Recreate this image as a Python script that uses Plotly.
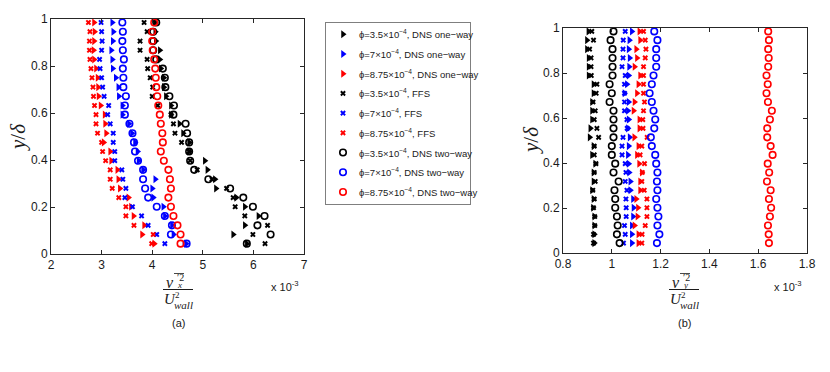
import plotly.graph_objects as go

# wall-normal positions y/delta (same rows in both panels)
y_pos = [0.044, 0.083, 0.122, 0.162, 0.201, 0.240, 0.279, 0.318, 0.358, 0.397,
         0.436, 0.475, 0.514, 0.554, 0.593, 0.632, 0.671, 0.710, 0.750, 0.789,
         0.828, 0.867, 0.906, 0.946, 0.985]

# panel (a): streamwise fluctuation, units of 1e-3
vx_dns1_35 = [5.87, 5.60, 5.83, 6.10, 5.83, 5.66, 5.26, 5.24, 5.09, 5.04, 4.73, 4.73, 4.61,
              4.54, 4.37, 4.37, 4.27, 4.23, 4.23, 4.17, 4.15, 4.15, 4.07, 4.06, 4.06]
vx_dns1_7 = [4.67, 4.42, 4.39, 4.25, 4.22, 4.02, 4.00, 4.06, 3.82, 3.73, 3.71, 3.66, 3.60,
             3.54, 3.41, 3.41, 3.34, 3.33, 3.28, 3.22, 3.21, 3.19, 3.22, 3.23, 3.21]
vx_dns1_875 = [4.04, 3.80, 3.84, 3.63, 3.58, 3.53, 3.36, 3.33, 3.31, 3.19, 3.17, 3.04, 3.09,
               3.07, 3.06, 2.98, 2.94, 2.93, 2.92, 2.89, 2.85, 2.84, 2.85, 2.86, 2.85]
vx_ffs_35 = [6.23, 5.99, 6.28, 5.83, 5.64, 5.60, 5.47, 5.18, 4.89, 4.75, 4.73, 4.58, 4.45,
             4.42, 4.37, 4.11, 4.00, 4.01, 3.96, 3.91, 3.90, 3.76, 3.76, 3.90, 3.84]
vx_ffs_7 = [4.25, 4.09, 3.92, 3.79, 3.61, 3.46, 3.48, 3.42, 3.40, 3.26, 3.26, 3.23, 3.23,
            3.17, 3.12, 3.14, 3.05, 3.02, 3.00, 2.97, 2.96, 3.00, 3.01, 3.00, 2.99]
vx_ffs_875 = [3.99, 4.02, 3.64, 3.48, 3.48, 3.34, 3.21, 3.17, 3.17, 3.08, 3.02, 3.00, 2.92,
              2.89, 2.89, 2.86, 2.84, 2.83, 2.81, 2.79, 2.77, 2.76, 2.76, 2.77, 2.74]
vx_dns2_35 = [5.87, 6.34, 6.08, 6.22, 5.99, 5.80, 5.54, 5.11, 4.83, 4.75, 4.73, 4.73, 4.69,
              4.66, 4.42, 4.43, 4.34, 4.26, 4.25, 4.21, 4.08, 4.02, 4.02, 4.02, 4.08]
vx_dns2_7 = [4.68, 4.37, 4.39, 4.25, 4.09, 3.92, 3.86, 3.82, 3.82, 3.72, 3.66, 3.64, 3.61,
             3.55, 3.46, 3.46, 3.48, 3.43, 3.43, 3.42, 3.44, 3.42, 3.41, 3.42, 3.41]
vx_dns2_875 = [4.56, 4.56, 4.50, 4.42, 4.37, 4.32, 4.37, 4.35, 4.32, 4.23, 4.17, 4.21, 4.20,
               4.17, 4.15, 4.12, 4.10, 4.08, 4.07, 4.06, 4.04, 4.01, 4.00, 4.00, 4.04]

# panel (b): wall-normal fluctuation, units of 1e-3
vy_dns1_35 = [0.928, 0.928, 0.928, 0.928, 0.923, 0.925, 0.919, 0.925, 0.925, 0.932, 0.919, 0.925, 0.909,
              0.912, 0.919, 0.919, 0.919, 0.925, 0.925, 0.905, 0.905, 0.905, 0.898, 0.898, 0.904]
vy_dns1_7 = [1.082, 1.082, 1.082, 1.087, 1.089, 1.087, 1.076, 1.076, 1.071, 1.069, 1.066, 1.069, 1.073,
             1.066, 1.069, 1.066, 1.069, 1.052, 1.062, 1.069, 1.071, 1.073, 1.069, 1.072, 1.082]
vy_dns1_875 = [1.109, 1.109, 1.093, 1.105, 1.107, 1.100, 1.116, 1.116, 1.123, 1.112, 1.103, 1.109, 1.092,
               1.113, 1.113, 1.089, 1.093, 1.103, 1.109, 1.116, 1.093, 1.103, 1.100, 1.116, 1.113]
vy_ffs_35 = [0.925, 0.925, 0.930, 0.930, 0.925, 0.928, 0.922, 0.932, 0.928, 0.935, 0.928, 0.928, 0.946,
             0.939, 0.928, 0.932, 0.923, 0.936, 0.939, 0.916, 0.915, 0.915, 0.909, 0.925, 0.918]
vy_ffs_7 = [1.048, 1.055, 1.052, 1.059, 1.059, 1.058, 1.062, 1.055, 1.058, 1.055, 1.042, 1.042, 1.046,
            1.063, 1.062, 1.052, 1.052, 1.052, 1.052, 1.055, 1.042, 1.046, 1.046, 1.047, 1.055]
vy_ffs_875 = [1.123, 1.124, 1.137, 1.144, 1.144, 1.144, 1.133, 1.123, 1.125, 1.134, 1.116, 1.123, 1.145,
              1.128, 1.127, 1.130, 1.134, 1.130, 1.130, 1.130, 1.130, 1.137, 1.140, 1.137, 1.130]
vy_dns2_35 = [1.032, 1.021, 1.024, 1.021, 1.014, 1.014, 1.011, 1.028, 1.007, 1.014, 1.000, 1.000, 1.007,
              1.007, 1.007, 1.007, 0.991, 1.000, 0.991, 1.003, 1.003, 1.003, 1.003, 0.995, 1.007]
vy_dns2_7 = [1.185, 1.195, 1.187, 1.191, 1.187, 1.182, 1.187, 1.185, 1.187, 1.182, 1.178, 1.164, 1.160,
             1.174, 1.178, 1.171, 1.164, 1.155, 1.164, 1.171, 1.182, 1.182, 1.182, 1.187, 1.174]
vy_dns2_875 = [1.644, 1.643, 1.640, 1.648, 1.653, 1.644, 1.651, 1.636, 1.645, 1.639, 1.659, 1.651, 1.637,
               1.637, 1.648, 1.656, 1.640, 1.634, 1.639, 1.634, 1.641, 1.643, 1.641, 1.644, 1.641]

labels = [
    "ϕ=3.5×10<sup>−4</sup>, DNS one−way",
    "ϕ=7×10<sup>−4</sup>, DNS one−way",
    "ϕ=8.75×10<sup>−4</sup>, DNS one−way",
    "ϕ=3.5×10<sup>−4</sup>, FFS",
    "ϕ=7×10<sup>−4</sup>, FFS",
    "ϕ=8.75×10<sup>−4</sup>, FFS",
    "ϕ=3.5×10<sup>−4</sup>, DNS two−way",
    "ϕ=7×10<sup>−4</sup>, DNS two−way",
    "ϕ=8.75×10<sup>−4</sup>, DNS two−way",
]
colors = ["#000000", "#0000ff", "#ff0000"] * 3
symbols = ["triangle-right"] * 3 + ["x"] * 3 + ["circle-open"] * 3

left_series = [vx_dns1_35, vx_dns1_7, vx_dns1_875, vx_ffs_35, vx_ffs_7, vx_ffs_875,
               vx_dns2_35, vx_dns2_7, vx_dns2_875]
right_series = [vy_dns1_35, vy_dns1_7, vy_dns1_875, vy_ffs_35, vy_ffs_7, vy_ffs_875,
                vy_dns2_35, vy_dns2_7, vy_dns2_875]


def _marker(sym, col):
    if sym == "circle-open":
        return dict(symbol=sym, size=6.5, color=col, line=dict(color=col, width=1.6))
    if sym == "x":
        return dict(symbol=sym, size=5, color=col, line=dict(width=0))
    return dict(symbol=sym, size=7, color=col, line=dict(width=0))


fig = go.Figure()
for i in range(9):
    fig.add_trace(go.Scatter(x=left_series[i], y=y_pos, mode="markers", showlegend=False,
                             marker=_marker(symbols[i], colors[i]), xaxis="x", yaxis="y"))
for i in range(9):
    fig.add_trace(go.Scatter(x=right_series[i], y=y_pos, mode="markers", showlegend=False,
                             marker=_marker(symbols[i], colors[i]), xaxis="x2", yaxis="y2"))

# legend box drawn on its own small axes: one key per row
for i in range(9):
    fig.add_trace(go.Scatter(x=[17], y=[i], mode="markers", showlegend=False,
                             marker=_marker(symbols[i], colors[i]), xaxis="x3", yaxis="y3",
                             cliponaxis=False, hoverinfo="skip"))

W, H = 830, 372


def px(x):
    return x / W


def py(y):
    return 1 - y / H


axis_style = dict(showline=True, linecolor="#262626", linewidth=1, mirror="ticks",
                  ticks="inside", ticklen=4, tickcolor="#262626", showgrid=False,
                  zeroline=False, automargin=False,
                  tickfont=dict(size=12, color="#1a1a1a"))
box_style = dict(showline=True, linecolor="#7f7f7f", linewidth=1, mirror=True,
                 showticklabels=False, ticks="", showgrid=False, zeroline=False,
                 automargin=False, fixedrange=True)

fig.update_layout(
    width=W, height=H,
    margin=dict(l=0, r=0, t=0, b=0, autoexpand=False),
    paper_bgcolor="white", plot_bgcolor="white",
    font=dict(family="Liberation Sans, Arial, sans-serif", color="#1a1a1a"),
    showlegend=False,
    xaxis=dict(domain=[px(51), px(304)], range=[2, 7], dtick=1, anchor="y", **axis_style),
    yaxis=dict(domain=[py(254), py(19)], range=[0, 1], dtick=0.2, anchor="x", **axis_style),
    xaxis2=dict(domain=[px(563), px(807)], range=[0.8, 1.8], dtick=0.2, anchor="y2", **axis_style),
    yaxis2=dict(domain=[py(253), py(28)], range=[0, 1], dtick=0.2, anchor="x2", **axis_style),
    xaxis3=dict(domain=[px(326), px(470)], range=[0, 144], anchor="y3", **box_style),
    yaxis3=dict(domain=[py(204), py(23)], range=[8.61, -0.574], anchor="x3", **box_style),
)

serif = "Liberation Serif, Times New Roman, serif"
ann = []
for i, lab in enumerate(labels):
    ann.append(dict(x=31, y=i, xref="x3", yref="y3", xanchor="left", yanchor="middle",
                    text=lab, font=dict(size=9.5, color="#1a1a1a"), showarrow=False))

paper_ann = []
for cx, sub, lab in [(178, "x", "(a)"), (684, "y", "(b)")]:
    paper_ann += [
        dict(x=px(cx - 8), y=py(282), text="<i>v</i>", font=dict(family=serif, size=16)),
        dict(x=px(cx + 2), y=py(277), text="′2", font=dict(family=serif, size=10)),
        dict(x=px(cx + 1), y=py(284.5), text=f"<i>{sub}</i>", font=dict(family=serif, size=9)),
        dict(x=px(cx - 8), y=py(298.5), text="<i>U</i>", font=dict(family=serif, size=15)),
        dict(x=px(cx - 0.5), y=py(295), text="2", font=dict(family=serif, size=9)),
        dict(x=px(cx + 5), y=py(304.5), text="<i>wall</i>", font=dict(family=serif, size=11)),
        dict(x=px(cx), y=py(323), text=lab, font=dict(size=11)),
    ]
    fig.add_shape(type="line", xref="paper", yref="paper",
                  x0=px(cx - 15), x1=px(cx + 15), y0=py(289.5), y1=py(289.5),
                  line=dict(color="#1a1a1a", width=1))
    fig.add_shape(type="line", xref="paper", yref="paper",
                  x0=px(cx - 4), x1=px(cx + 6), y0=py(273.5), y1=py(273.5),
                  line=dict(color="#1a1a1a", width=0.8))
for cx, cy in [(18, 137), (531, 140)]:
    paper_ann.append(dict(x=px(cx), y=py(cy), text="<i>y</i>/<i>δ</i>", textangle=-90,
                          font=dict(family=serif, size=21)))
for lx in [270, 773]:
    paper_ann.append(dict(x=px(lx), y=py(286), text="x 10<sup>-3</sup>",
                          font=dict(size=11), xanchor="left"))
for a in paper_ann:
    a.setdefault("xanchor", "center")
    a.update(xref="paper", yref="paper", showarrow=False, yanchor="middle",
             borderpad=0)
fig.update_layout(annotations=ann + paper_ann)

fig.write_html("out.html", config={"displayModeBar": False},
               post_script="document.body.style.margin='0px';")
